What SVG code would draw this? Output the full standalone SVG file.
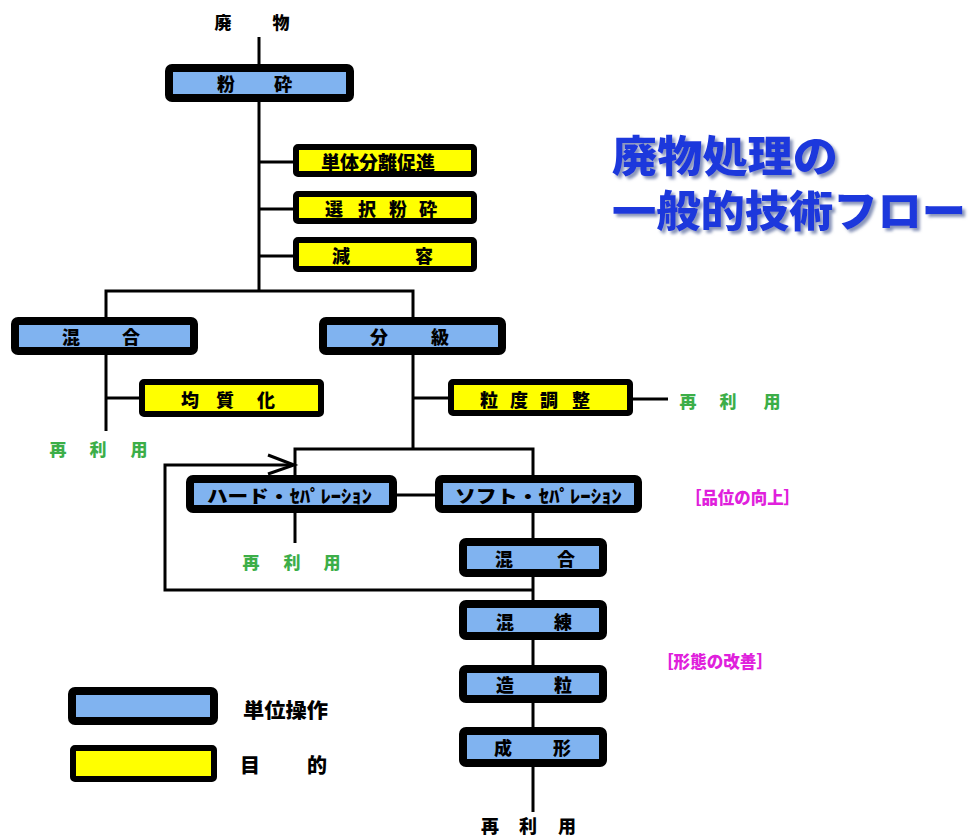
<svg xmlns="http://www.w3.org/2000/svg" width="971" height="839" viewBox="0 0 971 839">
<defs>
<style>
.op{fill:#80b3f0;stroke:#000;stroke-width:8;}
.pu{fill:#ffff00;stroke:#000;stroke-width:6;}
.ln{fill:none;stroke:#000;stroke-width:3;}
text{font-family:"Noto Sans CJK JP","Noto Sans",sans-serif;font-weight:900;dominant-baseline:central;}
.lb{font-size:18px;fill:#000;text-anchor:middle;}
.gr{font-size:17px;fill:#3cae48;text-anchor:middle;}
.mg{font-size:17px;fill:#e020dc;}
.ti{font-size:43px;fill:#1f38dc;filter:url(#sh);}
</style>
<filter id="sh" x="-5%" y="-20%" width="115%" height="150%">
<feDropShadow dx="3" dy="3" stdDeviation="1.5" flood-color="#6c7aa8" flood-opacity="0.8"/>
</filter>
</defs>
<rect width="971" height="839" fill="#fff"/>

<g id="title">
<text class="ti" x="612" y="153" textLength="226" lengthAdjust="spacingAndGlyphs">廃物処理の</text>
<text class="ti" x="612" y="208" textLength="354" lengthAdjust="spacingAndGlyphs">一般的技術フロー</text>
</g>

<g id="connectors">
<path class="ln" d="M259,37 V64"/>
<path class="ln" d="M259,102 V291"/>
<path class="ln" d="M259,162 H293 M259,209 H293 M259,256 H293"/>
<path class="ln" d="M106,317 V291 H413 V317"/>
<path class="ln" d="M106,355 V431 M106,398 H139"/>
<path class="ln" d="M413,355 V449 M413,398 H448"/>
<path class="ln" d="M633,399 H668"/>
<path class="ln" d="M295,475 V449 H533 V475"/>
<path class="ln" d="M295,513 V543"/>
<path class="ln" d="M397,495 H435"/>
<path class="ln" d="M533,513 V538"/>
<path class="ln" d="M533,577 V600"/>
<path class="ln" d="M533,590 H165 V465 H293"/>
<path class="ln" d="M268,455 L294,465 L268,474"/>
<path class="ln" d="M533,640 V665 M533,703 V727 M533,767 V812"/>
</g>

<g id="n-haibutsu"><text class="lb" x="223 281" y="21" style="font-size:17px">廃物</text></g>

<g id="n-funsai"><rect class="op" x="169" y="68" width="181" height="30" rx="3"/><text class="lb" x="226 283" y="83">粉砕</text></g>

<g id="n-tantai"><rect class="pu" x="296" y="147" width="178" height="27" rx="2"/><text class="lb" x="378" y="161" style="font-size:19px">単体分離促進</text></g>
<g id="n-sentaku"><rect class="pu" x="296" y="194" width="178" height="27" rx="2"/><text class="lb" x="334 367 398 428" y="208">選択粉砕</text></g>
<g id="n-genyou"><rect class="pu" x="296" y="240" width="178" height="29" rx="2"/><text class="lb" x="341 424" y="255">減容</text></g>

<g id="n-kongou1"><rect class="op" x="15" y="321" width="179" height="30" rx="3"/><text class="lb" x="71 131" y="336">混合</text></g>
<g id="n-bunkyu"><rect class="op" x="323" y="321" width="179" height="30" rx="3"/><text class="lb" x="379 440" y="336">分級</text></g>

<g id="n-kinshitsu"><rect class="pu" x="142" y="382" width="179" height="32" rx="2"/><text class="lb" x="190 225 266" y="399">均質化</text></g>
<g id="n-saiyou1"><text class="gr" x="58 98 139" y="448">再利用</text></g>

<g id="n-ryudo"><rect class="pu" x="451" y="382" width="179" height="31" rx="2"/><text class="lb" x="489 519 549 581" y="399">粒度調整</text></g>
<g id="n-saiyou2"><text class="gr" x="688 728 772" y="400">再利用</text></g>

<g id="n-hard"><rect class="op" x="190" y="479" width="203" height="30" rx="3"/><text class="lb" x="207" y="495" textLength="165" lengthAdjust="spacingAndGlyphs" style="text-anchor:start">ハード・ｾﾊﾟﾚｰｼｮﾝ</text></g>
<g id="n-soft"><rect class="op" x="439" y="479" width="199" height="30" rx="3"/><text class="lb" x="455" y="495" textLength="167" lengthAdjust="spacingAndGlyphs" style="text-anchor:start">ソフト・ｾﾊﾟﾚｰｼｮﾝ</text></g>
<g id="n-hini"><text class="mg" x="685" y="496" textLength="115" lengthAdjust="spacingAndGlyphs">［品位の向上］</text></g>
<g id="n-saiyou3"><text class="gr" x="251 292 332" y="561">再利用</text></g>

<g id="n-kongou2"><rect class="op" x="463" y="542" width="140" height="31" rx="3"/><text class="lb" x="504 566" y="558">混合</text></g>
<g id="n-konren"><rect class="op" x="463" y="604" width="140" height="32" rx="3"/><text class="lb" x="505 563" y="621">混練</text></g>
<g id="n-keitai"><text class="mg" x="657" y="660" textLength="116" lengthAdjust="spacingAndGlyphs">［形態の改善］</text></g>
<g id="n-zouryu"><rect class="op" x="463" y="669" width="140" height="30" rx="3"/><text class="lb" x="505 563" y="684">造粒</text></g>
<g id="n-seikei"><rect class="op" x="463" y="731" width="140" height="32" rx="3"/><text class="lb" x="503 562" y="747">成形</text></g>
<g id="n-saiyou4"><text class="lb" x="490 528 567" y="825">再利用</text></g>

<g id="legend-op"><rect class="op" x="72" y="691" width="142" height="30" rx="3"/><text class="lb" x="243" y="709" textLength="85" lengthAdjust="spacingAndGlyphs" style="text-anchor:start;font-size:20px">単位操作</text></g>
<g id="legend-pu"><rect class="pu" x="73" y="748" width="141" height="31" rx="2"/><text class="lb" x="250 317" y="764" style="font-size:20px">目的</text></g>
</svg>
